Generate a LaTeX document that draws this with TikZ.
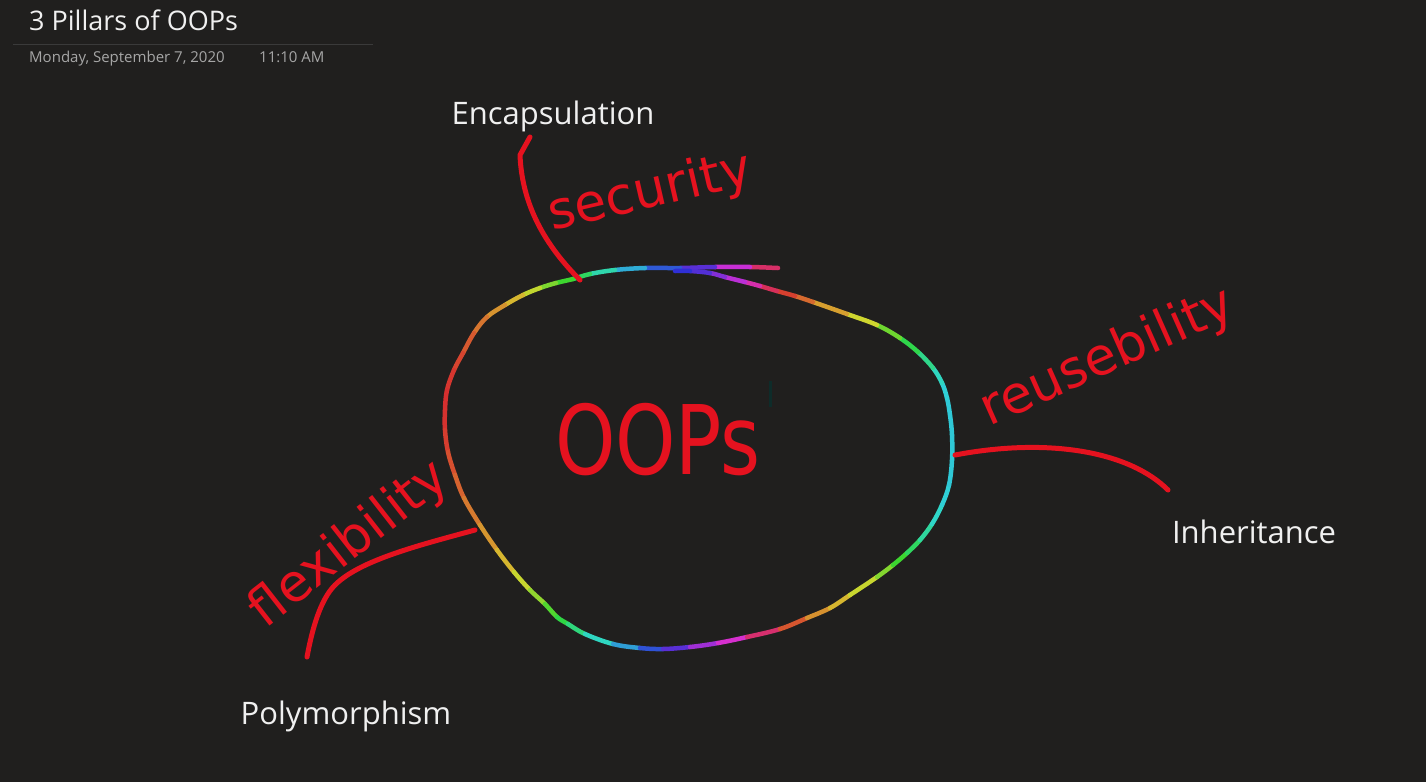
\documentclass[tikz,border=0pt]{standalone}
\usepackage{fontspec}
\usepackage{graphicx}
\setmainfont{Open Sans}
\newfontfamily\handfont{DejaVu Sans}
\usetikzlibrary{calc}
\definecolor{bgc}{HTML}{201F1E}
\definecolor{hred}{HTML}{E5121F}
\definecolor{labc}{HTML}{F0F0F0}
\definecolor{datec}{HTML}{A6A6A6}
\definecolor{sepc}{HTML}{3A3A3A}
\definecolor{tickc}{HTML}{0E2C2A}
\tikzset{
  rainbow/.style={line width=4.5pt, line cap=round},
  redline/.style={draw=hred, line width=5pt, line cap=round, line join=round},
  hand/.style={text=hred, inner sep=0pt, font=\handfont\fontsize{52}{52}\selectfont},
  label/.style={text=labc, inner sep=0pt, font=\fontsize{31}{31}\selectfont},
}
\begin{document}
\begin{tikzpicture}[x=1pt,y=-1pt]
\fill[bgc] (0,0) rectangle (1426,782);
\useasboundingbox (0,0) rectangle (1426,782);

% header
\node[anchor=base west, text=labc, inner sep=0pt, font=\fontsize{27}{27}\selectfont] (title) at (29,30) {3 Pillars of OOPs};
\coordinate (sepL) at (13,44);
\coordinate (sepR) at (373,44);
\draw[sepc, line width=1pt] (sepL) -- (sepR);
\node[anchor=base west, text=datec, inner sep=0pt, font=\fontsize{15}{15}\selectfont] (date) at (29,62) {Monday, September 7, 2020};
\node[anchor=base west, text=datec, inner sep=0pt, font=\fontsize{15}{15}\selectfont] (time) at (259,62) {11:10 AM};

% labels
\node[label, anchor=base] (enc) at (553,124) {Encapsulation};
\node[label, anchor=base] (inh) at (1254,543) {Inheritance};
\node[label, anchor=base] (poly) at (346,724) {Polymorphism};

% rainbow loop
\foreach \px/\py/\ph [count=\i] in {
 778/268/0, 750/267/-40, 715/267/-90, 680/268/-120, 645/268/-150, 615/270/-180,
 590/274/-210, 573/279/-235, 556/283/-255, 540/288/-280, 523/295/-305, 505/305/-318,
 487/317/-330, 474/333/-340, 463/353/-350, 454/370/-355, 447/390/-360, 445/410/-360,
 445/430/-358, 448/452/-352, 455/475/-345, 464/498/-338, 480/525/-328, 497/550/-318,
 514/572/-305, 530/590/-285, 545/604/-265, 557/617/-240, 568/624/-225, 585/634/-200,
 613/644/-175, 640/648/-145, 663/649/-120, 690/647/-90, 718/643/-70, 747/637/-45,
 780/629/0, 807/618/28, 830/608/42, 850/595/55, 877/577/75, 893/565/105,
 907/553/125, 920/540/150, 932/524/170, 942/505/180, 949/485/185, 952/460/185,
 952/435/185, 950/415/185, 947/398/185, 942/383/180, 933/368/165, 918/352/140,
 900/338/120, 877/325/75, 847/314/50, 813/302/30, 795/296/12, 777/291/0,
 760/286/-30, 745/282/-60, 725/277/-80, 710/273/-100, 690/271/-115, 675/271/-125}
{
  \coordinate (p\i) at (\px,\py);
  \expandafter\xdef\csname hu\i\endcsname{\ph}
}
\coordinate (p0) at (p1);
\coordinate (p67) at (p66);
\foreach \i in {1,...,65} {
  \pgfmathtruncatemacro\ia{\i-1}
  \pgfmathtruncatemacro\ib{\i+1}
  \pgfmathtruncatemacro\ic{\i+2}
  \pgfmathsetmacro\hh{mod(mod((\csname hu\i\endcsname+\csname hu\ib\endcsname)/2,360)+360,360)}
  \definecolor{segt}{Hsb}{\hh,0.78,0.84}
  \colorlet{segc}[rgb]{segt}
  \draw[rainbow, draw=segc] (p\i) .. controls ($(p\i)+0.1667*(p\ib)-0.1667*(p\ia)$) and ($(p\ib)-0.1667*(p\ic)+0.1667*(p\i)$) .. (p\ib);
}

% small tick
\coordinate (tkA) at (770,381);
\coordinate (tkB) at (770,407);
\draw[tickc, line width=3pt] (tkA) -- (tkB);

% red connectors
\coordinate (s0) at (530,137);
\coordinate (s1) at (520,155);
\coordinate (s2) at (580,280);
\draw[redline] (s0) -- (s1) .. controls (522,205) and (545,245) .. (s2);
\coordinate (r0) at (955,455);
\coordinate (r1) at (1168,490);
\draw[redline] (r0) .. controls (1050,437) and (1130,452) .. (r1);
\coordinate (f0) at (475,530);
\coordinate (f1) at (335,585);
\coordinate (f2) at (307,657);
\draw[redline] (f0) .. controls (420,545) and (360,560) .. (f1) .. controls (320,600) and (312,630) .. (f2);

% handwriting
\node[hand, rotate=13] (sec) at (650,193) {security};
\node[hand, rotate=24] (reu) at (1108,358) {reusebility};
\node[hand, rotate=38] (flex) at (350,545) {flexibility};
\node[hand, font=\handfont\fontsize{96}{96}\selectfont] (oops) at (658,440) {\scalebox{0.8}[1]{OOPs}};
\end{tikzpicture}
\end{document}
